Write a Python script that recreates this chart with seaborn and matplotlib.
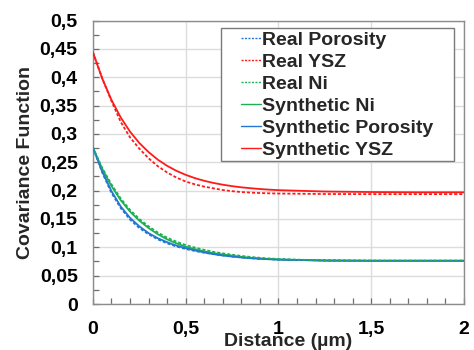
import matplotlib
matplotlib.use("Agg")
import matplotlib.pyplot as plt
import seaborn as sns
import pandas as pd
from matplotlib.ticker import MultipleLocator, FuncFormatter
from matplotlib.patches import Rectangle
from matplotlib.lines import Line2D

# ---- data ----
distance = [0.0, 0.05, 0.1, 0.15, 0.2, 0.25, 0.3, 0.35, 0.4, 0.45, 0.5, 0.55, 0.6, 0.65,
            0.7, 0.75, 0.8, 0.85, 0.9, 0.95, 1.0, 1.25, 1.5, 1.75, 2.0]

real_porosity = [0.276, 0.232, 0.196, 0.169, 0.149, 0.134, 0.123, 0.114, 0.107, 0.1015, 0.097,
                 0.0935, 0.0905, 0.088, 0.0856, 0.0837, 0.0821, 0.0808, 0.0798, 0.079, 0.0783,
                 0.0768, 0.0765, 0.0765, 0.0765]
real_ysz = [0.444, 0.398, 0.358, 0.321, 0.294, 0.274, 0.257, 0.243, 0.232, 0.223, 0.216,
            0.211, 0.207, 0.204, 0.201, 0.199, 0.1975, 0.1965, 0.1958, 0.1952, 0.1948,
            0.194, 0.1938, 0.1938, 0.1938]
real_ni = [0.276, 0.240, 0.211, 0.186, 0.166, 0.150, 0.137, 0.126, 0.117, 0.110, 0.104,
           0.0995, 0.0955, 0.092, 0.0893, 0.087, 0.0848, 0.083, 0.0815, 0.0803, 0.0793,
           0.0768, 0.0762, 0.076, 0.076]
synthetic_ni = [0.276, 0.2385, 0.208, 0.183, 0.163, 0.147, 0.134, 0.123, 0.114, 0.107, 0.101,
                0.0967, 0.0929, 0.0898, 0.0873, 0.0853, 0.083, 0.0815, 0.0803, 0.0793, 0.0785,
                0.0765, 0.076, 0.076, 0.076]
synthetic_porosity = [0.276, 0.234, 0.199, 0.172, 0.152, 0.137, 0.125, 0.116, 0.109, 0.103,
                      0.0985, 0.0945, 0.091, 0.088, 0.0856, 0.0837, 0.0821, 0.0808, 0.0798,
                      0.079, 0.0783, 0.0768, 0.0765, 0.0765, 0.0765]
synthetic_ysz = [0.444, 0.398, 0.360, 0.329, 0.304, 0.284, 0.268, 0.2545, 0.2437, 0.2349,
                 0.2278, 0.222, 0.2173, 0.2135, 0.2104, 0.2079, 0.2058, 0.2042, 0.2028,
                 0.2017, 0.2008, 0.1984, 0.1975, 0.197, 0.197]

series_names = ["Real Porosity", "Real YSZ", "Real Ni",
                "Synthetic Ni", "Synthetic Porosity", "Synthetic YSZ"]
series_values = [real_porosity, real_ysz, real_ni,
                 synthetic_ni, synthetic_porosity, synthetic_ysz]

BLUE = "#2277d2"
RED = "#ff1a1a"
GREEN = "#1cb052"
colors = [BLUE, RED, GREEN, GREEN, BLUE, RED]
dashed = [True, True, True, False, False, False]

# ---- style ----
sns.set_theme(style="white")
plt.rcParams["font.family"] = ["Liberation Sans", "DejaVu Sans"]
plt.rcParams["font.weight"] = "bold"

fig = plt.figure(figsize=(4.74, 3.50), dpi=100)
ax = fig.add_axes([0.196, 0.1314, 0.783, 0.810])

order_draw = [3, 4, 5, 0, 1, 2]
for i in order_draw:
    df = pd.DataFrame({"x": distance, "y": series_values[i]})
    sns.lineplot(data=df, x="x", y="y", ax=ax, color=colors[i],
                 linewidth=1.3, linestyle=(0, (1.7, 1.1)) if dashed[i] else "-",
                 legend=False, zorder=3)

ax.set_xlim(0, 2)
ax.set_ylim(0, 0.5)
ax.xaxis.set_major_locator(MultipleLocator(0.5))
ax.xaxis.set_minor_locator(MultipleLocator(0.1))
ax.yaxis.set_major_locator(MultipleLocator(0.05))
ax.yaxis.set_minor_locator(MultipleLocator(0.025))

def comma(v, pos):
    s = ("%.2f" % v).rstrip("0").rstrip(".")
    return s.replace(".", ",")

ax.xaxis.set_major_formatter(FuncFormatter(comma))
ax.yaxis.set_major_formatter(FuncFormatter(comma))

ax.grid(True, which="major", color="#dcdcdc", linewidth=1.0)
ax.set_axisbelow(True)
for sp in ax.spines.values():
    sp.set_color("#8c8c8c")
    sp.set_linewidth(1.0)

ax.tick_params(which="both", direction="in", color="#6e6e6e", width=0.9,
               left=True, bottom=True, length=4.5)
ax.tick_params(axis="x", which="major", pad=12, labelsize=14, labelcolor="black")
ax.tick_params(axis="y", which="major", pad=11, labelsize=14, labelcolor="black")
for lab in ax.get_xticklabels() + ax.get_yticklabels():
    lab.set_fontweight("bold")

ax.set_xlabel("Distance (µm)", fontsize=14, fontweight="bold")
ax.xaxis.set_label_coords(0.526, -0.103)
ax.set_ylabel("Covariance Function", fontsize=14, fontweight="bold")
ax.yaxis.set_label_coords(-0.16, 0.5)

# ---- legend ----
frame = Rectangle((220.7 / 474, 1 - 161 / 350), (454 - 220.7) / 474, (161 - 28.3) / 350,
                  transform=fig.transFigure, facecolor="white", edgecolor="#7a7a7a",
                  linewidth=1.0, zorder=2)
fig.add_artist(frame)
handles = [Line2D([0], [0], color=colors[i], linewidth=1.0,
                  linestyle=(0, (1.5, 1.0)) if dashed[i] else "-")
           for i in range(len(series_names))]
leg = fig.legend(handles, series_names, loc="upper left",
                 bbox_to_anchor=(241 / 474, 1 - 31.5 / 350), bbox_transform=fig.transFigure,
                 frameon=False, borderpad=0, borderaxespad=0, handlelength=1.05,
                 handletextpad=0.05, labelspacing=0.22,
                 prop={"weight": "bold", "size": 14})
leg.set_zorder(5)

fig.savefig("out.png", dpi=100)
